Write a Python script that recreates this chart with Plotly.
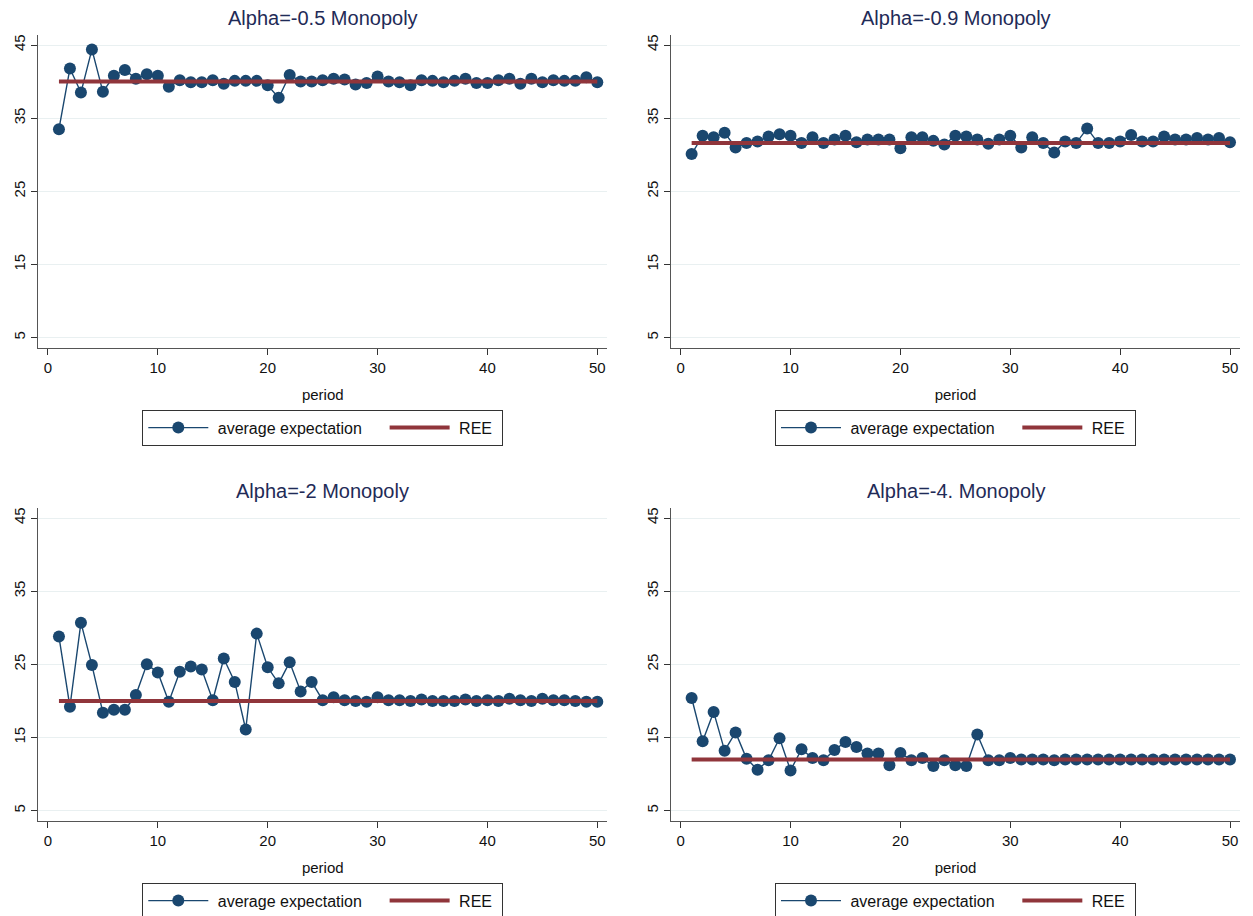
import plotly.graph_objects as go

periods = list(range(1, 51))

titles = ["Alpha=-0.5 Monopoly", "Alpha=-0.9 Monopoly", "Alpha=-2 Monopoly", "Alpha=-4. Monopoly"]

exp_a05 = [33.5, 41.8, 38.5, 44.4, 38.6, 40.8, 41.6, 40.4, 41.0, 40.8,
           39.3, 40.2, 39.9, 39.9, 40.2, 39.7, 40.1, 40.1, 40.1, 39.5,
           37.8, 40.9, 40.0, 40.0, 40.2, 40.4, 40.3, 39.6, 39.8, 40.7,
           40.0, 39.9, 39.5, 40.2, 40.1, 39.9, 40.1, 40.4, 39.8, 39.8,
           40.2, 40.4, 39.7, 40.4, 39.9, 40.2, 40.1, 40.1, 40.6, 39.9]

exp_a09 = [30.1, 32.6, 32.4, 33.0, 31.0, 31.6, 31.8, 32.5, 32.8, 32.6,
           31.6, 32.4, 31.6, 32.1, 32.6, 31.7, 32.1, 32.1, 32.1, 30.9,
           32.4, 32.4, 31.9, 31.4, 32.6, 32.5, 32.1, 31.5, 32.1, 32.6,
           31.0, 32.4, 31.6, 30.3, 31.8, 31.6, 33.6, 31.6, 31.6, 31.8,
           32.7, 31.8, 31.8, 32.5, 32.1, 32.1, 32.3, 32.1, 32.3, 31.7]

exp_a2 = [28.8, 19.2, 30.7, 24.9, 18.4, 18.8, 18.8, 20.8, 25.0, 23.9,
          19.9, 24.0, 24.7, 24.3, 20.1, 25.8, 22.6, 16.1, 29.2, 24.6,
          22.4, 25.3, 21.3, 22.6, 20.1, 20.5, 20.1, 20.0, 19.9, 20.5,
          20.1, 20.1, 20.0, 20.2, 20.0, 20.0, 20.0, 20.2, 20.0, 20.1,
          20.0, 20.3, 20.1, 20.0, 20.3, 20.1, 20.1, 20.0, 19.9, 19.9]

exp_a4 = [20.4, 14.5, 18.5, 13.2, 15.7, 12.1, 10.6, 11.9, 14.9, 10.5,
          13.4, 12.2, 11.9, 13.3, 14.4, 13.7, 12.8, 12.8, 11.2, 12.9,
          11.9, 12.2, 11.1, 11.9, 11.2, 11.1, 15.4, 11.9, 11.9, 12.2,
          12.0, 12.0, 12.0, 11.9, 12.0, 12.0, 12.0, 12.0, 12.0, 12.0,
          12.0, 12.0, 12.0, 12.0, 12.0, 12.0, 12.0, 12.0, 12.0, 12.0]

ree_values = [40.0, 31.6, 20.0, 12.0]
ree_x = [1, 50]

y_ticks = [5, 15, 25, 35, 45]
x_ticks = [0, 10, 20, 30, 40, 50]

series = [exp_a05, exp_a09, exp_a2, exp_a4]

W, H = 1253, 916
NAVY = "#1a476f"
MAROON = "#90353b"
FONT = "Liberation Sans, Arial, sans-serif"
NB = "\u00a0"

# pixel boxes (left, right, top, bottom)
boxes = [(38.3, 607.3, 35, 347.7), (671, 1240, 35, 347.7),
         (38.3, 607.3, 508, 820.7), (671, 1240, 508, 820.7)]

fig = go.Figure()
legend_names = ["legend", "legend2", "legend3", "legend4"]
layout_updates = {}
annotations = []

for i in range(4):
    xa = "x" if i == 0 else f"x{i+1}"
    ya = "y" if i == 0 else f"y{i+1}"
    lg = legend_names[i]
    fig.add_trace(go.Scatter(
        x=periods, y=series[i], mode="lines+markers",
        name=NB + "average expectation" + NB * 4, xaxis=xa, yaxis=ya, legend=lg,
        line=dict(color=NAVY, width=1.4),
        marker=dict(color=NAVY, size=12, line=dict(width=0)),
    ))
    fig.add_trace(go.Scatter(
        x=ree_x, y=[ree_values[i], ree_values[i]], mode="lines",
        name=NB + "REE" + NB, xaxis=xa, yaxis=ya, legend=lg,
        line=dict(color=MAROON, width=4),
    ))
    l, r, t, b = boxes[i]
    xkey = "xaxis" if i == 0 else f"xaxis{i+1}"
    ykey = "yaxis" if i == 0 else f"yaxis{i+1}"
    layout_updates[xkey] = dict(
        domain=[l / W, r / W], anchor=ya, range=[-0.88, 50.91],
        tickvals=x_ticks, ticks="outside", ticklen=6, tickcolor="#333",
        showline=True, linecolor="#555", linewidth=1.3,
        showgrid=False, zeroline=False, automargin=False,
        tickfont=dict(size=15, color="#111", family=FONT),
        title=dict(text="period", font=dict(size=15, color="#111", family=FONT), standoff=14),
    )
    layout_updates[ykey] = dict(
        domain=[1 - b / H, 1 - t / H], anchor=xa, range=[3.63, 46.37],
        tickvals=y_ticks, ticks="outside", ticklen=6, tickcolor="#333",
        tickangle=-90, automargin=False,
        showline=True, linecolor="#555", linewidth=1.3,
        showgrid=True, gridcolor="#e9f0f1", gridwidth=1.2, zeroline=False,
        tickfont=dict(size=15, color="#111", family=FONT),
    )
    cx = (l + r) / 2 / W
    layout_updates[lg] = dict(
        orientation="h", x=cx, xanchor="center",
        y=1 - (b + 80) / H, yanchor="middle",
        bordercolor="#333", borderwidth=1, bgcolor="white",
        font=dict(size=16, color="#111", family=FONT),
        itemwidth=60, tracegroupgap=0,
    )
    annotations.append(dict(
        text=titles[i], x=cx, xref="paper", y=1 - (t - 17) / H, yref="paper",
        xanchor="center", yanchor="middle", showarrow=False,
        font=dict(size=20, color="#1f2b57", family=FONT),
    ))

fig.update_layout(
    width=W, height=H, margin=dict(l=0, r=0, t=0, b=0, autoexpand=False),
    paper_bgcolor="white", plot_bgcolor="white",
    annotations=annotations, showlegend=True,
    **layout_updates,
)

fig.write_html("out.html", config={"displayModeBar": False},
               post_script="document.body.style.margin='0px';document.body.style.overflow='hidden';")
